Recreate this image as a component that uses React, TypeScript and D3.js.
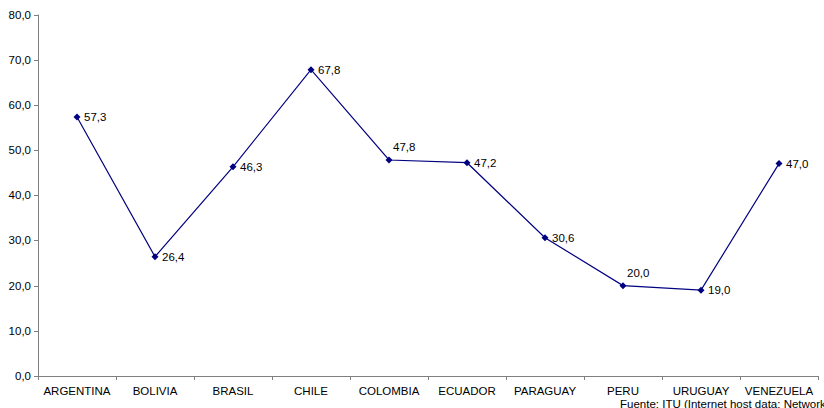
import React from "react";
import * as d3 from "d3";

const categories = ["ARGENTINA", "BOLIVIA", "BRASIL", "CHILE", "COLOMBIA", "ECUADOR", "PARAGUAY", "PERU", "URUGUAY", "VENEZUELA"];
const values = [57.3, 26.4, 46.3, 67.8, 47.8, 47.2, 30.6, 20.0, 19.0, 47.0];
const labelAbove = [false, false, false, false, true, false, false, true, false, false];
const yTicks = [0, 10, 20, 30, 40, 50, 60, 70, 80];
const footnote = "Fuente: ITU (Internet host data: Network";

export default function App() {
  const W = 824, H = 408;
  const left = 38, right = 818, top = 14.5, bottom = 376;
  const x = d3.scaleBand<string>().domain(categories).range([left, right]);
  const y = d3.scaleLinear().domain([0, 80]).range([bottom, top]);
  const fmt = (v: number) => v.toFixed(1).replace(".", ",");
  const cx = (c: string) => (x(c) as number) + x.bandwidth() / 2;
  const line = d3.line<number>().x((_, i) => cx(categories[i])).y((d) => y(d));
  const font = "'Liberation Sans', Arial, sans-serif";
  const fs = 11.5;
  const diamond = "M0,-3.5L3.5,0L0,3.5L-3.5,0Z";
  const bounds = categories.map((c) => x(c) as number).concat([right]);
  return (
    <svg width={W} height={H} style={{ position: "absolute", left: 0, top: 0 }} fontFamily={font}>
      <rect width={W} height={H} fill="#fff" />
      {/* y axis */}
      <line x1={left + 0.5} x2={left + 0.5} y1={top} y2={bottom} stroke="#808080" strokeWidth={1} />
      {yTicks.map((t) => (
        <g key={t}>
          <line x1={left - 4} x2={left} y1={Math.round(y(t)) + 0.5} y2={Math.round(y(t)) + 0.5} stroke="#808080" />
          <text x={left - 7} y={y(t)} dy="0.35em" textAnchor="end" fontSize={fs} fill="#000">{fmt(t)}</text>
        </g>
      ))}
      {/* x axis */}
      <line x1={left} x2={right} y1={bottom + 0.5} y2={bottom + 0.5} stroke="#808080" strokeWidth={1} />
      {bounds.map((b, i) => (
        <line key={i} x1={Math.round(b) + 0.5} x2={Math.round(b) + 0.5} y1={bottom} y2={bottom + 4} stroke="#808080" />
      ))}
      {categories.map((c) => (
        <text key={c} x={cx(c)} y={391} dy="0.35em" textAnchor="middle" fontSize={fs} fill="#000">{c}</text>
      ))}
      {/* line */}
      <path d={line(values) || ""} fill="none" stroke="#000080" strokeWidth={1.2} />
      {values.map((v, i) => (
        <path key={i} d={diamond} transform={`translate(${cx(categories[i])},${y(v)})`} fill="#000080" />
      ))}
      {values.map((v, i) => (
        <text
          key={"l" + i}
          x={cx(categories[i]) + (labelAbove[i] ? 4 : 7)}
          y={y(v) + (labelAbove[i] ? -13 : 0)}
          dy="0.35em"
          fontSize={fs}
          fill="#000"
        >
          {fmt(v)}
        </text>
      ))}
      <text x={620} y={404} dy="0.35em" fontSize={fs} fill="#000">{footnote}</text>
    </svg>
  );
}
